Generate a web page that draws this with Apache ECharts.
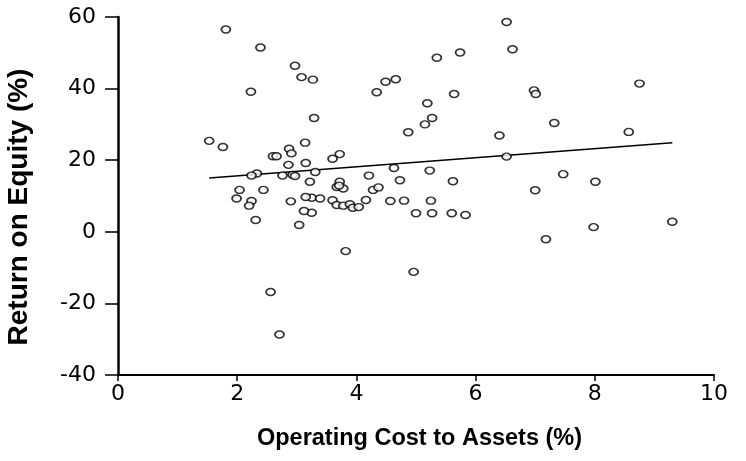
<!DOCTYPE html>
<html>
<head>
<meta charset="utf-8">
<script src="https://cdn.jsdelivr.net/npm/echarts@6/dist/echarts.min.js"></script>
<style>html,body{margin:0;padding:0;background:#fff}#chart{width:746px;height:461px}</style>
</head>
<body>
<div id="chart"></div>
<script>
// Operating cost to assets (%)
var costToAssets = [1.81,2.39,2.97,3.08,3.27,2.23,3.29,1.53,1.76,2.87,3.14,2.91,2.60,2.66,2.86,3.15,2.33,2.24,2.76,2.93,2.97,3.31,3.22,2.04,2.44,
  6.52,6.62,5.74,5.35,4.49,4.66,4.34,5.64,5.19,5.27,5.15,4.87,6.40,6.52,3.72,3.60,4.63,4.21,5.23,4.73,5.62,3.72,3.67,3.78,3.71,4.28,4.37,
  3.25,3.39,3.60,3.67,3.78,3.89,3.94,4.04,4.16,4.57,4.80,5.25,3.25,5.00,5.27,5.60,5.83,3.82,4.96,
  1.99,2.24,2.20,2.90,3.15,2.31,3.12,3.04,2.56,2.71,
  6.98,7.01,8.75,7.32,8.57,7.47,8.01,7.00,7.98,7.18,9.30];
// Return on equity (%)
var returnOnEquity = [56.5,51.5,46.4,43.2,42.5,39.1,31.8,25.4,23.7,23.2,24.9,21.9,21.1,21.1,18.7,19.2,16.3,15.7,15.7,15.9,15.6,16.7,14.0,11.7,11.7,
  58.6,51.0,50.1,48.6,41.9,42.6,39.0,38.5,35.9,31.8,30.0,27.8,26.9,21.0,21.7,20.4,17.8,15.7,17.1,14.4,14.1,14.0,12.5,12.1,12.9,11.7,12.4,
  9.5,9.3,8.8,7.5,7.3,7.7,6.7,6.9,8.9,8.6,8.7,8.7,5.3,5.2,5.2,5.2,4.7,-5.4,-11.2,
  9.3,8.6,7.3,8.5,9.7,3.3,5.8,1.9,-16.8,-28.7,
  39.5,38.5,41.4,30.4,27.9,16.1,14.0,11.6,1.3,-2.1,2.8];
// Fitted trend line endpoints
var fitX = [1.53, 9.30];
var fitY = [15.0, 24.9];
var xTicks = [0,2,4,6,8,10];
var yTicks = [-40,-20,0,20,40,60];
var xTitle = 'Operating Cost to Assets (%)';
var yTitle = 'Return on Equity (%)';

var points = costToAssets.map(function(x,i){return [x, returnOnEquity[i]];});
var fitLine = fitX.map(function(x,i){return [x, fitY[i]];});

var chart = echarts.init(document.getElementById('chart'));
var tickFont = {fontFamily:'DejaVu Sans', fontSize:22, color:'#000'};
chart.setOption({
  animation:false,
  backgroundColor:'#fff',
  grid:{left:118, right:32, top:17, bottom:86, show:false},
  graphic:[{
    type:'text', x:19, y:207, rotation:Math.PI/2,
    style:{text:yTitle, fontFamily:'Liberation Sans', fontWeight:'bold', fontSize:28,
      fill:'#000', align:'center', verticalAlign:'middle'}
  }],
  xAxis:{
    type:'value', min:xTicks[0], max:xTicks[xTicks.length-1], interval:2,
    name:xTitle, nameLocation:'middle', nameGap:52,
    nameTextStyle:{fontFamily:'Liberation Sans', fontWeight:'bold', fontSize:23.5, color:'#000', padding:[0,0,0,7]},
    axisLine:{onZero:false, lineStyle:{color:'#000', width:2}},
    axisTick:{show:true, length:6, lineStyle:{color:'#000', width:1.5}},
    axisLabel:Object.assign({margin:8}, tickFont),
    splitLine:{show:false}
  },
  yAxis:{
    type:'value', min:yTicks[0], max:yTicks[yTicks.length-1], interval:20,
    axisLine:{onZero:false, lineStyle:{color:'#000', width:2.5}},
    axisTick:{show:true, length:13, lineStyle:{color:'#000', width:1.5}},
    axisLabel:Object.assign({margin:22}, tickFont),
    splitLine:{show:false}
  },
  series:[
    {type:'scatter', data:points, symbol:'circle', symbolSize:[9,7],
     itemStyle:{color:'#fff', borderColor:'#000', borderWidth:1.6}, z:3},
    {type:'line', data:fitLine, symbol:'none', lineStyle:{color:'#000', width:1.5}, z:2}
  ]
});
</script>
</body>
</html>
